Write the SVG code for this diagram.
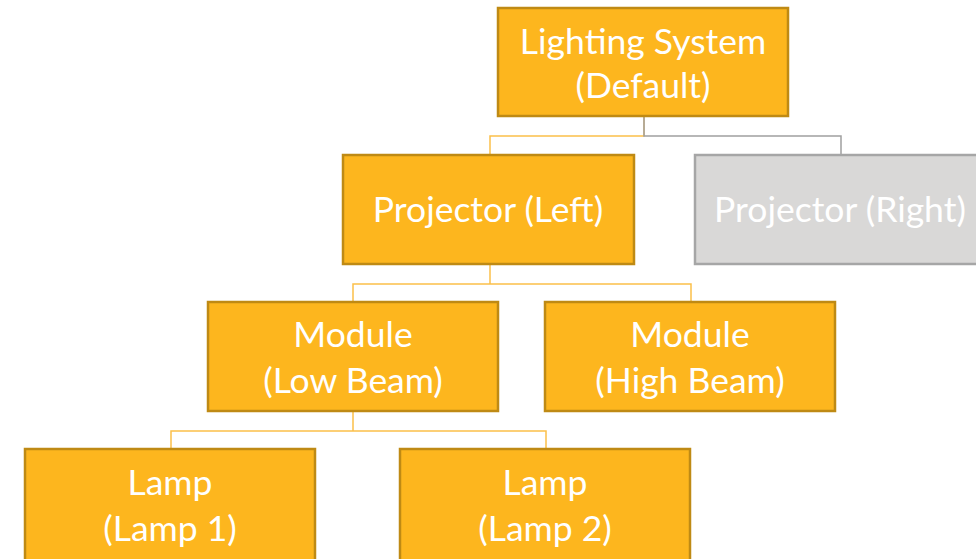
<svg xmlns="http://www.w3.org/2000/svg" width="976" height="559" viewBox="0 0 976 559">
<style>
.box{fill:#FDB61E;stroke:#BF8A14;stroke-width:2.5}
.gbox{fill:#D9D8D7;stroke:#A6A6A6;stroke-width:2.5}
text{font-family:Lato,"Open Sans","Liberation Sans",sans-serif;font-size:35.5px;fill:#FFFFFF;text-anchor:middle}
.oc{fill:none;stroke:#FBC04A;stroke-width:1.5}
.gc{fill:none;stroke:#A0A0A0;stroke-width:1.5}
</style>
<rect width="976" height="559" fill="#FFFFFF"/>
<g id="connectors">
<path class="oc" d="M644 116 V136 H490 V155"/>
<path class="gc" d="M644 116 V136 H841 V155"/>
<path class="oc" d="M490 264 V284 H353 V302 M490 284 H691 V302"/>
<path class="oc" d="M353 411 V431 H171 V449 M353 431 H546 V449"/>
</g>
<g id="root"><rect class="box" x="498" y="8" width="290" height="108"/><text x="643" y="54">Lighting System</text><text x="643" y="98">(Default)</text></g>
<g id="projector-left"><rect class="box" x="343" y="155" width="291" height="109"/><text x="488" y="222">Projector (Left)</text></g>
<g id="projector-right"><rect class="gbox" x="695" y="155" width="292" height="109"/><text x="840" y="222">Projector (Right)</text></g>
<g id="module-low"><rect class="box" x="208" y="302" width="290" height="109"/><text x="353" y="347">Module</text><text x="353" y="393">(Low Beam)</text></g>
<g id="module-high"><rect class="box" x="545" y="302" width="290" height="109"/><text x="690" y="347">Module</text><text x="690" y="393">(High Beam)</text></g>
<g id="lamp-1"><rect class="box" x="25" y="449" width="290" height="115"/><text x="170" y="495">Lamp</text><text x="170" y="541">(Lamp 1)</text></g>
<g id="lamp-2"><rect class="box" x="400" y="449" width="290" height="115"/><text x="545" y="495">Lamp</text><text x="545" y="541">(Lamp 2)</text></g>
</svg>
